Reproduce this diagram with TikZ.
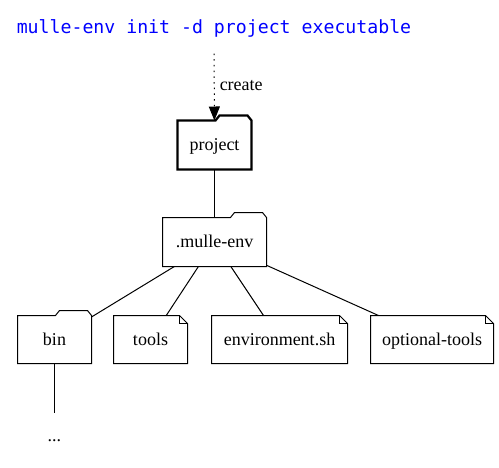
\documentclass[tikz,border=0pt]{standalone}
\usepackage{fontspec}
\setmainfont{Liberation Serif}
\newfontfamily\cmdfont{DejaVu Sans Mono}
\usetikzlibrary{arrows.meta}
\definecolor{cmdblue}{RGB}{0,0,255}
\newcommand\drawfolder[2][]{%
  \draw[#1] (#2.south west) -- (#2.north west) -- ([xshift=-36pt]#2.north east)
    -- ([xshift=-32pt,yshift=5pt]#2.north east) -- ([xshift=-4pt,yshift=5pt]#2.north east)
    -- (#2.north east) -- (#2.south east) -- cycle;}
\newcommand\drawnote[1]{%
  \draw (#1.south west) -- (#1.north west) -- ([xshift=-8pt]#1.north east)
    -- ([yshift=-8pt]#1.north east) -- (#1.south east) -- cycle;
  \draw ([xshift=-8pt]#1.north east) -- ([xshift=-8pt,yshift=-8pt]#1.north east)
    -- ([yshift=-8pt]#1.north east);}
\begin{document}
\begin{tikzpicture}[x=1pt,y=1pt, line width=1pt, line join=miter,
  lbl/.style={font=\fontsize{18}{22}\selectfont, text height=13pt, text depth=2pt, inner sep=0pt},
  box/.style 2 args={lbl, minimum width=#1, minimum height=#2},
  link/.style={line width=1pt},
  createarrow/.style={dash pattern=on 1.5pt off 4.2pt, -{Triangle[width=11pt,length=14pt]}}]
\useasboundingbox (0,0) rectangle (499,-467);
\node[font=\cmdfont\fontsize{18.2}{22}\selectfont, text=cmdblue, text height=14pt, text depth=4pt,
      minimum height=50pt, inner sep=0pt] (cmd) at (214,-28) {mulle-env init -d project executable};
\node[box={73pt}{48pt}] (proj) at (214.5,-145) {project};
\node[box={103pt}{48pt}] (menv) at (214.5,-242) {.mulle-env};
\node[box={73pt}{47pt}] (bin) at (54.5,-339.5) {bin};
\node[box={73pt}{47pt}] (tools) at (150.5,-339.5) {tools};
\node[box={135pt}{47pt}] (envsh) at (279.5,-339.5) {environment.sh};
\node[box={122pt}{47pt}] (opt) at (432,-339.5) {optional-tools};
\node[lbl, minimum height=46pt] (dots) at (54.5,-436) {...};
\drawfolder[line width=2.2pt]{proj}
\drawfolder{menv}
\drawfolder{bin}
\drawnote{tools}
\drawnote{envsh}
\drawnote{opt}
\draw[createarrow] (cmd) -- node[lbl, anchor=west, xshift=5pt, yshift=2.5pt] (createlbl) {create} (proj);
\draw[link] (proj) -- (menv);
\draw[link] (menv) -- (bin);
\draw[link] (menv) -- (tools);
\draw[link] (menv) -- (envsh);
\draw[link] (menv) -- (opt);
\draw[link] (bin) -- (dots);
\end{tikzpicture}
\end{document}
